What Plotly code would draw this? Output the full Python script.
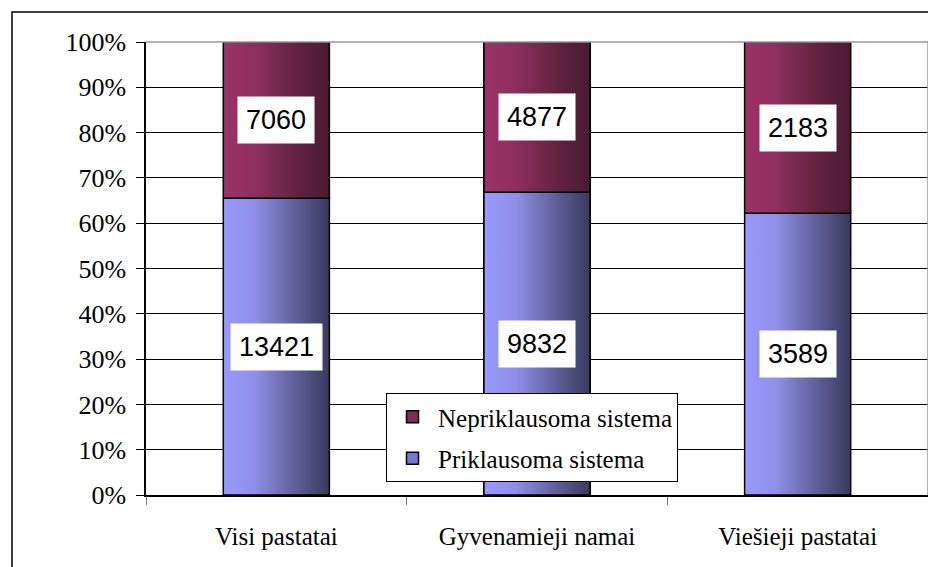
import plotly.graph_objects as go

categories = ["Visi pastatai", "Gyvenamieji namai", "Viešieji pastatai"]
priklausoma = [13421, 9832, 3589]
nepriklausoma = [7060, 4877, 2183]
series_names = ["Priklausoma sistema", "Nepriklausoma sistema"]
y_ticks = [0, 10, 20, 30, 40, 50, 60, 70, 80, 90, 100]
y_tick_labels = [f"{v}%" for v in y_ticks]

BLUE_SCALE = [[0, "#9999ff"], [0.3, "#8f8fe8"], [0.7, "#5c5c96"], [1, "#3a3a5e"]]
RED_SCALE = [[0, "#9b3366"], [0.3, "#8e2f5e"], [0.7, "#62223f"], [1, "#4a1a33"]]
BLUE_MID = "#7777cc"
RED_MID = "#802c55"

SERIF = "Liberation Serif"
SANS = "Liberation Sans"

# page offset compensation (body margin) and target plot-area box in page pixels
OFF = 8
PL, PR, PT, PB = 146, 928, 42, 495
W, H = 936, 567
PW, PH = PR - PL, PB - PT

totals = [a + b for a, b in zip(priklausoma, nepriklausoma)]
pct_p = [a / t * 100 for a, t in zip(priklausoma, totals)]

fig = go.Figure()

fig.add_trace(go.Bar(x=categories, y=priklausoma, name=series_names[0],
                     legendgroup="p", legendrank=2,
                     marker=dict(color=BLUE_MID, line=dict(color="black", width=1.5))))
fig.add_trace(go.Bar(x=categories, y=nepriklausoma, name=series_names[1],
                     legendgroup="n", legendrank=1,
                     marker=dict(color=RED_MID, line=dict(color="black", width=1.5))))

# Gradient overlay for each stacked segment (derived from the same data)
bar_frac = 0.407
h = bar_frac / 2
for i, p in enumerate(pct_p):
    for (y0, y1, scale) in [(0, p, BLUE_SCALE), (p, 100, RED_SCALE)]:
        fig.add_trace(go.Scatter(
            x=[i - h, i + h, i + h, i - h, i - h],
            y=[y0, y0, y1, y1, y0],
            xaxis="x2", mode="lines", fill="toself",
            fillgradient=dict(type="horizontal", colorscale=scale),
            line=dict(color="black", width=1.5),
            hoverinfo="skip", showlegend=False))

# Data labels
for i, c in enumerate(categories):
    p = pct_p[i]
    fig.add_annotation(x=c, y=p / 2, xref="x", yref="y", text=str(priklausoma[i]),
                       showarrow=False, bgcolor="white", borderpad=8,
                       font=dict(family=SANS, size=27, color="black"))
    fig.add_annotation(x=c, y=p + (100 - p) / 2, xref="x", yref="y", text=str(nepriklausoma[i]),
                       showarrow=False, bgcolor="white", borderpad=8,
                       font=dict(family=SANS, size=27, color="black"))

# Plot area top/right gray border
fig.add_shape(type="line", xref="paper", yref="paper", x0=0, x1=1, y0=1, y1=1,
              line=dict(color="#9a9a9a", width=1.5), layer="above")
fig.add_shape(type="line", xref="paper", yref="paper", x0=1, x1=1, y0=0, y1=1,
              line=dict(color="#9a9a9a", width=1.5), layer="above")
# Chart area border
fig.add_shape(type="rect", xref="paper", yref="paper",
              x0=(12 - PL) / PW, x1=1.1, y0=-0.3, y1=(PB - 12) / PH,
              line=dict(color="black", width=1.5), layer="above")

fig.update_layout(
    width=W, height=H,
    margin=dict(l=PL - OFF, r=W + OFF - PR, t=PT - OFF, b=H + OFF - PB, autoexpand=False),
    paper_bgcolor="white", plot_bgcolor="white",
    font=dict(family=SERIF, color="black"),
    barmode="stack", barnorm="percent", bargap=1 - bar_frac,
    showlegend=True,
    legend=dict(x=(386 - PL) / PW, y=(PB - 393) / PH, xanchor="left", yanchor="top",
                bgcolor="white", bordercolor="black", borderwidth=1,
                traceorder="grouped", tracegroupgap=6, itemwidth=41,
                font=dict(family=SERIF, size=25, color="black")),
    xaxis=dict(type="category", range=[-0.5, 2.5], tickson="boundaries",
               ticks="outside", ticklen=8, tickcolor="#777777",
               showline=True, linecolor="black", linewidth=1.5,
               ticklabelstandoff=18,
               showgrid=False, tickfont=dict(family=SERIF, size=25, color="black")),
    xaxis2=dict(overlaying="x", range=[-0.5, 2.5], visible=False),
    yaxis=dict(range=[0, 100], tickmode="array", tickvals=y_ticks, ticktext=y_tick_labels,
               ticks="outside", ticklen=8, tickcolor="black",
               showline=True, linecolor="black", linewidth=1.5,
               ticklabelstandoff=5,
               showgrid=True, gridcolor="black", gridwidth=1, zeroline=False,
               tickfont=dict(family=SERIF, size=26, color="black")),
)

fig.write_html("out.html")
